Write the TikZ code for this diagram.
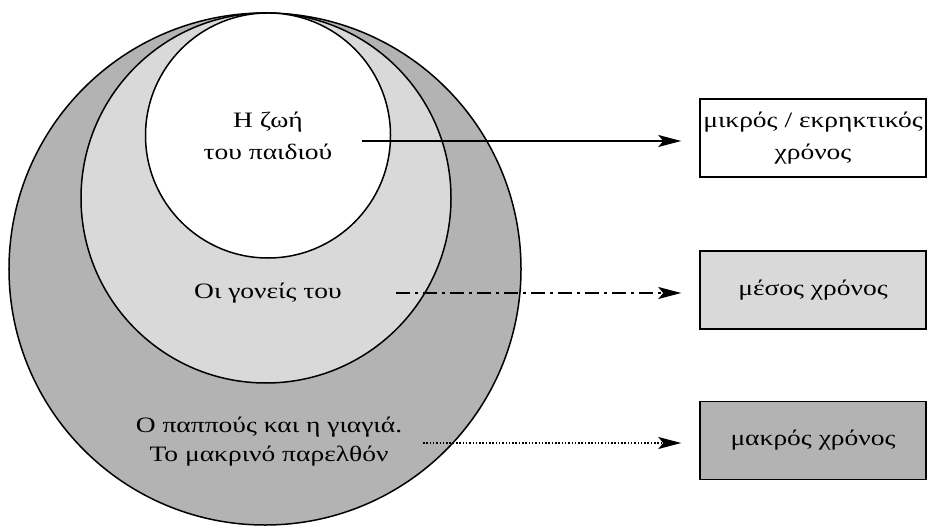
\documentclass[tikz,border=0pt]{standalone}
\usepackage{fontspec}
\setmainfont{Liberation Serif}
\newfontfamily\grfont[FakeStretch=1.25]{Liberation Serif}
\usetikzlibrary{arrows.meta}
\definecolor{lightg}{HTML}{D9D9D9}
\definecolor{darkg}{HTML}{B3B3B3}
\tikzset{
  ring/.style={circle,draw=black,line width=1.5bp,inner sep=0pt},
  lbl/.style={align=center,font=\grfont\fontsize{22bp}{32bp}\selectfont,inner sep=0pt},
  tbox/.style={draw=black,line width=1.5bp,minimum width=226bp,minimum height=78bp,align=center,inner sep=0pt,font=\grfont\fontsize{22bp}{32bp}\selectfont},
  arr/.style={line width=1.5bp,-{Stealth[length=23bp,width=12bp,inset=5bp]},shorten >=18bp},
  dashdot/.style={dash pattern=on 14bp off 5bp on 3bp off 5bp},
  dots/.style={dash pattern=on 1.5bp off 1.8bp}
}
\begin{document}
\begin{tikzpicture}[x=1bp,y=-1bp]
\useasboundingbox (0,0) rectangle (927,529);
\node[ring,fill=darkg,minimum size=512bp] (outer) at (265,269) {};
\node[ring,fill=lightg,minimum size=370bp] (middle) at (266,198) {};
\node[ring,fill=white,minimum size=245bp] (inner) at (268,135.5) {};
\node[lbl] (t1) at (268,136) {Η ζωή\\του παιδιού};
\node[lbl] (t2) at (268,293) {Οι γονείς του};
\node[lbl,font=\grfont\fontsize{22bp}{29bp}\selectfont] (t3) at (269,442) {Ο παππούς και η γιαγιά.\\Το μακρινό παρελθόν};
\node[tbox,fill=white] (b1) at (813,138) {μικρός / εκρηκτικός\\χρόνος};
\node[tbox,fill=lightg] (b2) at (813,290) {μέσος χρόνος};
\node[tbox,fill=darkg] (b3) at (813,440.5) {μακρός χρόνος};
\coordinate (s1) at (362,141);
\coordinate (s2) at (396,293);
\coordinate (s3) at (423,443);
\draw[arr] (s1) -- (s1 -| b1.west);
\draw[arr,dashdot] (s2) -- (s2 -| b2.west);
\draw[arr,dots] (s3) -- (s3 -| b3.west);
\end{tikzpicture}
\end{document}
